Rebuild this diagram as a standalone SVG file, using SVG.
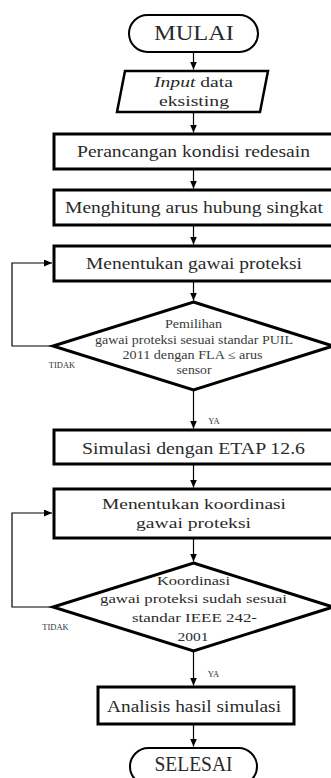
<svg xmlns="http://www.w3.org/2000/svg" width="331" height="778" viewBox="0 0 331 778">
<defs>
<style>
.box{fill:#fff;stroke:#000;stroke-width:3}
.term{fill:#fff;stroke:#000;stroke-width:2}
.dia{fill:#fff;stroke:#000;stroke-width:3}
.con{fill:none;stroke:#000;stroke-width:1.2}
.t{font-family:"Liberation Serif","Times New Roman",serif;fill:#2a2a2a;text-anchor:middle}
.big{font-size:16.5px}
.mid{font-size:15px}
.term-t{font-size:22px}
.d1{font-size:12px;fill:#3a3a3a}
.d2{font-size:13.5px}
.lab{font-size:8.5px;fill:#333}
</style>
<marker id="ah" markerUnits="userSpaceOnUse" markerWidth="8" markerHeight="7" refX="8" refY="3.5" orient="auto">
<path d="M0,0 L8,3.5 L0,7 z" fill="#000"/>
</marker>
</defs>
<rect width="331" height="778" fill="#fff"/>

<g id="connectors">
<line class="con" x1="193.5" y1="53" x2="193.5" y2="69.5" marker-end="url(#ah)"/>
<line class="con" x1="193.5" y1="113" x2="193.5" y2="132.5" marker-end="url(#ah)"/>
<line class="con" x1="193.5" y1="170" x2="193.5" y2="188.5" marker-end="url(#ah)"/>
<line class="con" x1="193.5" y1="226" x2="193.5" y2="244.5" marker-end="url(#ah)"/>
<line class="con" x1="193.5" y1="282" x2="193.5" y2="300.5" marker-end="url(#ah)"/>
<line class="con" x1="193.5" y1="391" x2="193.5" y2="428.5" marker-end="url(#ah)"/>
<line class="con" x1="193.5" y1="465" x2="193.5" y2="487.5" marker-end="url(#ah)"/>
<line class="con" x1="193.5" y1="539" x2="193.5" y2="561.5" marker-end="url(#ah)"/>
<line class="con" x1="193.5" y1="652" x2="193.5" y2="685.5" marker-end="url(#ah)"/>
<line class="con" x1="193.5" y1="725" x2="193.5" y2="746.5" marker-end="url(#ah)"/>
<path class="con" d="M53,346 H12 V263 H52" marker-end="url(#ah)"/>
<path class="con" d="M53,607 H12 V513 H52" marker-end="url(#ah)"/>
<text class="t lab" x="62" y="368">TIDAK</text>
<text class="t lab" x="214" y="424">YA</text>
<text class="t lab" x="55.5" y="630">TIDAK</text>
<text class="t lab" x="213.5" y="677">YA</text>
</g>

<g id="mulai">
<rect class="term" x="129" y="15" width="129" height="37" rx="18.5" ry="18.5"/>
<text class="t term-t" x="194" y="40" textLength="80" lengthAdjust="spacingAndGlyphs">MULAI</text>
</g>

<g id="input">
<polygon class="box" points="125,71 268,71 260,112 117,112" style="stroke-width:2.5"/>
<text class="t" style="font-size:15px" x="193.5" y="87" textLength="79" lengthAdjust="spacingAndGlyphs"><tspan font-style="italic">Input</tspan> data</text>
<text class="t" style="font-size:15px" x="194" y="106" textLength="70" lengthAdjust="spacingAndGlyphs">eksisting</text>
</g>

<g id="perancangan">
<rect class="box" x="54" y="134" width="281" height="35"/>
<text class="t big" x="193.5" y="157" textLength="233" lengthAdjust="spacingAndGlyphs">Perancangan kondisi redesain</text>
</g>

<g id="menghitung">
<rect class="box" x="54" y="190" width="281" height="35"/>
<text class="t big" x="194" y="213" textLength="258" lengthAdjust="spacingAndGlyphs">Menghitung arus hubung singkat</text>
</g>

<g id="menentukan-gawai">
<rect class="box" x="54" y="246" width="281" height="35"/>
<text class="t big" x="194" y="268.5" textLength="216" lengthAdjust="spacingAndGlyphs">Menentukan gawai proteksi</text>
</g>

<g id="pemilihan">
<polygon class="dia" points="193.5,302 333,346 193.5,390 53,346"/>
<text class="t d1" x="193.5" y="328" textLength="57" lengthAdjust="spacingAndGlyphs">Pemilihan</text>
<text class="t d1" x="194" y="343.5" textLength="198" lengthAdjust="spacingAndGlyphs">gawai proteksi sesuai standar PUIL</text>
<text class="t d1" x="192.5" y="359" textLength="140" lengthAdjust="spacingAndGlyphs">2011 dengan FLA ≤ arus</text>
<text class="t d1" x="194" y="373.5" textLength="35" lengthAdjust="spacingAndGlyphs">sensor</text>
</g>

<g id="simulasi">
<rect class="box" x="54" y="430" width="281" height="34"/>
<text class="t big" x="193.5" y="453.5" textLength="223" lengthAdjust="spacingAndGlyphs">Simulasi dengan ETAP 12.6</text>
</g>

<g id="menentukan-koordinasi">
<rect class="box" x="54" y="489" width="281" height="49"/>
<text class="t mid" x="194" y="509" textLength="184" lengthAdjust="spacingAndGlyphs">Menentukan koordinasi</text>
<text class="t mid" x="193.5" y="527.5" textLength="115" lengthAdjust="spacingAndGlyphs">gawai proteksi</text>
</g>

<g id="koordinasi">
<polygon class="dia" points="193.5,563 333,607 193.5,651 53,607"/>
<text class="t d2" x="193.5" y="585" textLength="73" lengthAdjust="spacingAndGlyphs">Koordinasi</text>
<text class="t d2" x="193.5" y="603" textLength="187" lengthAdjust="spacingAndGlyphs">gawai proteksi sudah sesuai</text>
<text class="t d2" x="194.5" y="622" textLength="125" lengthAdjust="spacingAndGlyphs">standar IEEE 242-</text>
<text class="t d2" x="193" y="641" textLength="31" lengthAdjust="spacingAndGlyphs">2001</text>
</g>

<g id="analisis">
<rect class="box" x="98" y="687" width="196" height="37"/>
<text class="t big" x="194" y="712" textLength="174" lengthAdjust="spacingAndGlyphs">Analisis hasil simulasi</text>
</g>

<g id="selesai">
<rect class="term" x="130" y="748" width="127" height="37" rx="18.5" ry="18.5"/>
<text class="t term-t" x="193.5" y="771" textLength="78" lengthAdjust="spacingAndGlyphs">SELESAI</text>
</g>
</svg>
